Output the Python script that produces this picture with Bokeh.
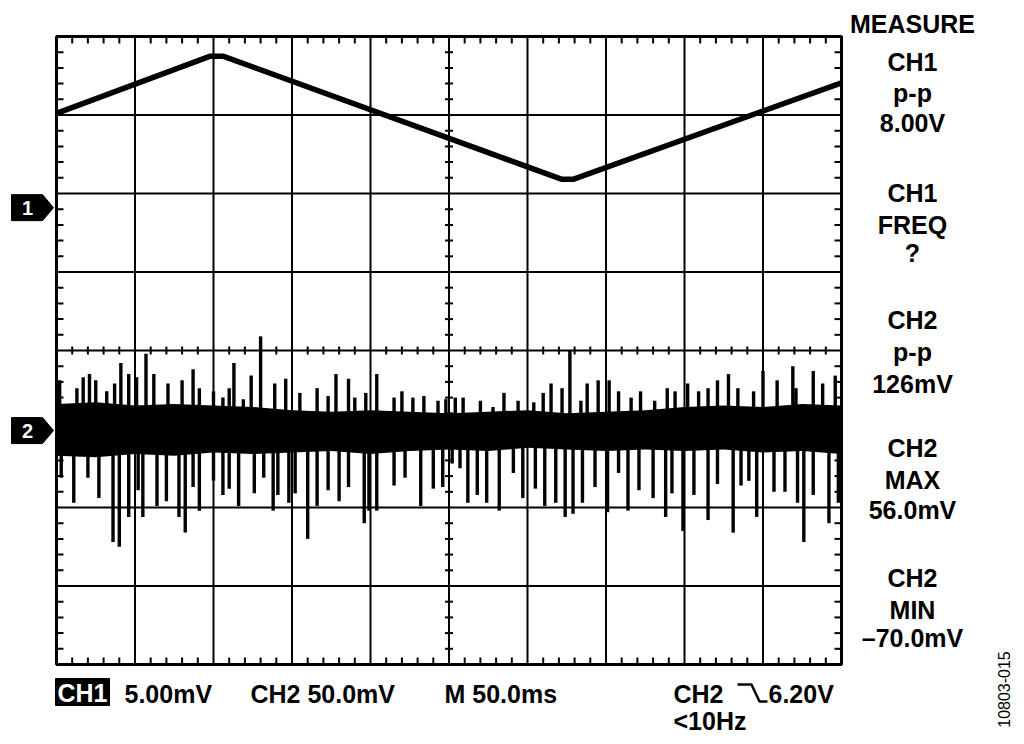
from math import pi
from bokeh.plotting import figure
from bokeh.models import Range1d, Label
from bokeh.embed import file_html
from bokeh.resources import INLINE

T_MIN, T_MAX = 0, 500          # 10 divisions x 50 ms/div
DIVS_Y = 4                     # 8 vertical divisions
CH1_SCALE = 5.0                # mV/div
CH2_SCALE = 50.0               # mV/div
CH1_OFFSET_DIV = 1.82          # ground marker of channel 1 (divisions)
CH2_OFFSET_DIV = -1.02         # ground marker of channel 2 (divisions)

# CH1 triangle wave (ms, mV)
CH1_T = [0, 98, 106, 322, 329, 500]
CH1_MV = [6.0, 9.65, 9.65, 1.8, 1.8, 7.95]

# CH2 noise: dense core band (ms, mV)
BAND_T = [0, 25, 50, 75, 100, 125, 150, 175, 200, 225, 250, 275, 300, 325, 350,
          375, 400, 425, 450, 475, 500]
BAND_HI = [17, 18, 16, 17, 16, 15, 13, 12, 13, 12, 11, 12, 13, 11, 12, 13, 15, 16,
           15, 17, 16]
BAND_LO = [-16, -17, -15, -16, -14, -15, -14, -13, -15, -13, -12, -13, -11, -12,
           -13, -12, -13, -12, -14, -13, -15]

# CH2 positive spikes (ms, mV)
UP_T = [2, 13, 17, 21, 25, 32, 37, 41, 46, 51, 57, 62, 71, 80, 87, 91, 100, 106, 110, 113, 119, 124,
        130, 139, 146, 155, 166, 173, 178, 186, 190, 197, 204, 215, 220, 227, 234, 243, 248,
        254, 259, 270, 278, 285, 294, 304, 310, 315, 322, 327, 334, 338, 345, 352, 358, 366, 372,
        381, 389, 394, 402, 409, 415, 421, 428, 434, 444, 450, 459, 469, 471, 482, 488, 496]
UP_V = [32, 27, 34, 36, 32, 25, 30, 43, 36, 34, 49, 36, 30, 32, 39, 27, 25, 21, 27, 43, 20, 35,
        60, 30, 33, 24, 27, 22, 36, 33, 21, 24, 36, 21, 25, 21, 22, 19, 20,
        21, 21, 19, 15, 24, 19, 18, 24, 30, 27, 51, 19, 30, 32, 32, 25, 21, 25,
        19, 27, 25, 30, 25, 27, 32, 36, 27, 25, 38, 32, 41, 27, 38, 30, 35]

# CH2 negative spikes (ms, mV)
DN_T = [3, 11, 20, 27, 36, 40, 46, 52, 55, 64, 70, 78, 82, 87, 91, 100, 106, 110, 116, 126,
        132, 138, 141, 148, 152, 160, 166, 173, 180, 186, 196, 199, 204, 215, 222, 232, 240, 246,
        252, 257, 262, 268, 274, 282, 291, 297, 305, 311, 318, 324, 329, 335, 343, 351, 358, 364, 371,
        380, 388, 392, 399, 406, 415, 421, 431, 436, 441, 446, 457, 464, 472, 476, 482, 492, 498]
DN_V = [-30, -46, -30, -43, -71, -74, -55, -38, -55, -48, -45, -55, -65, -36, -51, -32, -41, -37, -48, -40,
        -30, -51, -41, -46, -40, -69, -48, -38, -45, -36, -59, -51, -51, -35, -30, -48, -37, -36,
        -21, -24, -46, -41, -46, -51, -27, -43, -37, -48, -46, -55, -53, -46, -36, -52, -27, -51, -38,
        -43, -55, -40, -64, -41, -57, -34, -65, -35, -32, -55, -39, -39, -46, -71, -41, -59, -46]

# measurement panel texts
MEASURE_TITLE = "MEASURE"
MEASURE_LINES = [["CH1", "p-p", "8.00V"],
                 ["CH1", "FREQ", "?"],
                 ["CH2", "p-p", "126mV"],
                 ["CH2", "MAX", "56.0mV"],
                 ["CH2", "MIN", "\u201370.0mV"]]
STATUS_TEXTS = ["CH1", "5.00mV", "CH2 50.0mV", "M 50.0ms", "CH2", "6.20V", "<10Hz"]
FIG_ID = "10803-015"

# ---------------- layout ----------------
FONT = "Liberation Sans"
W, H = 1012, 736
FR_LEFT, FR_TOP, FR_W, FR_H = 56, 36, 785, 628      # pixels of the scope screen
PX_PER_MS = FR_W / (T_MAX - T_MIN)
PX_PER_DIV = FR_H / (2 * DIVS_Y)
Y_MID = FR_TOP + FR_H / 2


def dx(px):
    return T_MIN + (px - FR_LEFT) / PX_PER_MS


def dy(py):
    return (Y_MID - py) / PX_PER_DIV


p = figure(width=W, height=H, x_range=Range1d(dx(0), dx(W)), y_range=Range1d(dy(H), dy(0)),
           x_axis_type=None, y_axis_type=None, output_backend="svg", toolbar_location=None,
           min_border_left=0, min_border_right=0, min_border_top=0, min_border_bottom=0)
p.outline_line_color = None
p.background_fill_color = "white"
p.border_fill_color = "white"
p.xgrid.visible = False
p.ygrid.visible = False

y0d, y1d = p.y_range.start, p.y_range.end
p.extra_y_ranges = {
    "ch1": Range1d((y0d - CH1_OFFSET_DIV) * CH1_SCALE, (y1d - CH1_OFFSET_DIV) * CH1_SCALE),
    "ch2": Range1d((y0d - CH2_OFFSET_DIV) * CH2_SCALE, (y1d - CH2_OFFSET_DIV) * CH2_SCALE),
}

# ---------------- graticule ----------------
x_div = [T_MIN + 50 * i for i in range(1, 10)]
y_div = [j for j in range(-DIVS_Y + 1, DIVS_Y)]
p.segment(x0=x_div, y0=-DIVS_Y, x1=x_div, y1=DIVS_Y, line_color="black", line_width=2)
p.segment(x0=T_MIN, y0=y_div, x1=T_MAX, y1=y_div, line_color="black", line_width=2)

tx = [T_MIN + 10 * i for i in range(1, 50) if i % 5]
ty = [round(-DIVS_Y + 0.2 * j, 2) for j in range(1, 40) if j % 5]
tl_y = 7 / PX_PER_DIV      # border tick length (in divisions)
tl_x = 7 / PX_PER_MS       # border tick length (in ms)
cl_y = 4 / PX_PER_DIV
cl_x = 4 / PX_PER_MS
tick = dict(line_color="black", line_width=2)
p.segment(x0=tx, y0=DIVS_Y, x1=tx, y1=DIVS_Y - tl_y, **tick)
p.segment(x0=tx, y0=-DIVS_Y, x1=tx, y1=-DIVS_Y + tl_y, **tick)
p.segment(x0=tx, y0=-cl_y, x1=tx, y1=cl_y, **tick)
p.segment(x0=T_MIN, y0=ty, x1=T_MIN + tl_x, y1=ty, **tick)
p.segment(x0=T_MAX, y0=ty, x1=T_MAX - tl_x, y1=ty, **tick)
p.segment(x0=250 - cl_x, y0=ty, x1=250 + cl_x, y1=ty, **tick)

# ---------------- traces ----------------
p.line(CH1_T, CH1_MV, y_range_name="ch1", line_color="black", line_width=5.5, line_join="round")

p.varea(x=BAND_T, y1=BAND_LO, y2=BAND_HI, y_range_name="ch2", fill_color="black")
p.segment(x0=UP_T, y0=0, x1=UP_T, y1=UP_V, y_range_name="ch2", line_color="black", line_width=3.4)
p.segment(x0=DN_T, y0=0, x1=DN_T, y1=DN_V, y_range_name="ch2", line_color="black", line_width=3.4)

# screen border
p.quad(left=T_MIN, right=T_MAX, bottom=-DIVS_Y, top=DIVS_Y, fill_color=None,
       line_color="black", line_width=3)

# ---------------- channel ground markers ----------------
for ch, off in (("1", CH1_OFFSET_DIV), ("2", CH2_OFFSET_DIV)):
    h = 13 / PX_PER_DIV
    p.patch([dx(11), dx(42), dx(53), dx(42), dx(11)],
            [off + h, off + h, off, off - h, off - h], fill_color="black", line_color="black")
    p.add_layout(Label(x=dx(27), y=off, text=ch, text_font=FONT, text_font_size="20px",
                       text_font_style="bold", text_color="white", text_align="center",
                       text_baseline="middle"))


def label(x, y, text, size="25px", align="left", color="black", style="bold", **kw):
    p.add_layout(Label(x=x, y=y, text=text, text_font=FONT, text_font_size=size,
                       text_font_style=style, text_color=color, text_align=align,
                       text_baseline="middle", **kw))


# ---------------- measurement panel (cap-centre rows) ----------------
label(dx(912), dy(23.5), MEASURE_TITLE, align="center")
rows = [[61, 92, 122.5], [192, 224, 252], [319, 351, 383], [447, 479, 509.5], [577, 609, 637]]
for ys, lines in zip(rows, MEASURE_LINES):
    for yy, t in zip(ys, lines):
        label(dx(912), dy(yy), t, align="center")

# ---------------- status line ----------------
p.quad(left=dx(55), right=dx(109), bottom=dy(705), top=dy(678), fill_color="black",
       line_color="black")
label(dx(82), dy(692), STATUS_TEXTS[0], color="white", align="center")
label(dx(124), dy(693), STATUS_TEXTS[1])
label(dx(250), dy(693), STATUS_TEXTS[2])
label(dx(444), dy(693), STATUS_TEXTS[3])
label(dx(673), dy(693), STATUS_TEXTS[4])
label(dx(768), dy(693), STATUS_TEXTS[5])
label(dx(673), dy(720), STATUS_TEXTS[6])

# trigger slope symbol (falling edge)
p.line([dx(737), dx(751), dx(759), dx(767)], [dy(684), dy(684), dy(701), dy(701)],
       line_color="black", line_width=2.5)

# figure id
p.add_layout(Label(x=dx(1003), y=dy(689), text=FIG_ID, angle=pi / 2, text_font=FONT,
                   text_font_size="16px", text_color="black", text_align="center",
                   text_baseline="middle"))

open("out.html", "w").write(file_html(p, INLINE))
